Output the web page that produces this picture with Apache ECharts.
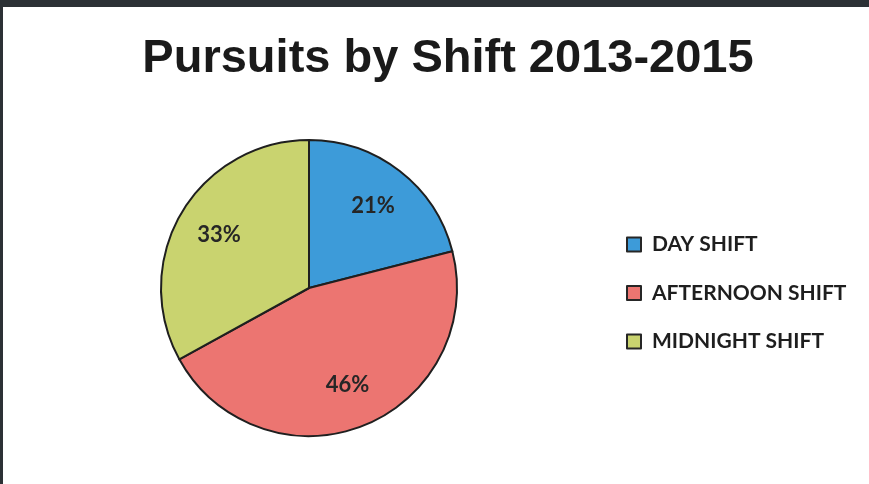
<!DOCTYPE html>
<html>
<head>
<meta charset="utf-8">
<script src="https://cdn.jsdelivr.net/npm/echarts@6/dist/echarts.min.js"></script>
<style>
  html, body { margin: 0; padding: 0; background: #fff; }
  #chart { width: 869px; height: 484px; }
</style>
</head>
<body>
<div id="chart"></div>
<script>
// Pursuit share per shift, in percent
const shifts = ['DAY SHIFT', 'AFTERNOON SHIFT', 'MIDNIGHT SHIFT'];
const shares = [21, 46, 33];
const sliceColors = ['#3d9bd9', '#ec7571', '#c9d36f'];
const titleText = 'Pursuits by Shift 2013-2015';

const chart = echarts.init(document.getElementById('chart'), null, { renderer: 'canvas' });

const pieData = shifts.map((name, i) => ({
  name: name,
  value: shares[i],
  itemStyle: { color: sliceColors[i] }
}));

const center = [309, 288];

chart.setOption({
  backgroundColor: '#ffffff',
  animation: false,
  title: {
    text: titleText,
    left: 443,
    top: 31,
    textAlign: 'center',
    textStyle: {
      fontFamily: '"Liberation Sans", Arial, sans-serif',
      fontWeight: 'bold',
      fontSize: 47,
      color: '#1a1a1a'
    }
  },
  legend: {
    orient: 'vertical',
    left: 621,
    top: 229,
    itemWidth: 14,
    itemHeight: 14,
    itemGap: 27.5,
    icon: 'rect',
    itemStyle: { borderColor: '#262626', borderWidth: 2 },
    textStyle: {
      fontFamily: 'Lato, sans-serif',
      fontWeight: 'bold',
      fontSize: 21,
      color: '#1e1e1e',
      padding: [0, 0, 0, 6]
    },
    data: shifts
  },
  series: [
    {
      type: 'pie',
      center: center,
      radius: 148,
      startAngle: 90,
      clockwise: true,
      silent: true,
      label: { show: false },
      labelLine: { show: false },
      itemStyle: { borderColor: '#1f1f1f', borderWidth: 2 },
      data: pieData
    },
    {
      // transparent ring used only to place the percent labels further out
      type: 'pie',
      center: center,
      radius: [55, 148],
      startAngle: 90,
      clockwise: true,
      silent: true,
      legendHoverLink: false,
      itemStyle: { color: 'rgba(0,0,0,0)', borderWidth: 0 },
      label: {
        show: true,
        position: 'inside',
        formatter: '{c}%',
        fontFamily: 'Lato, sans-serif',
        fontWeight: 'bold',
        fontSize: 22,
        color: '#262626'
      },
      labelLine: { show: false },
      data: shifts.map((name, i) => ({ name: name + ' ', value: shares[i] }))
    }
  ],
  graphic: [
    { type: 'rect', shape: { x: 0, y: 0, width: 869, height: 7 }, style: { fill: '#2c3135' } },
    { type: 'rect', shape: { x: 0, y: 0, width: 3, height: 484 }, style: { fill: '#2c3135' } }
  ]
});
</script>
</body>
</html>
